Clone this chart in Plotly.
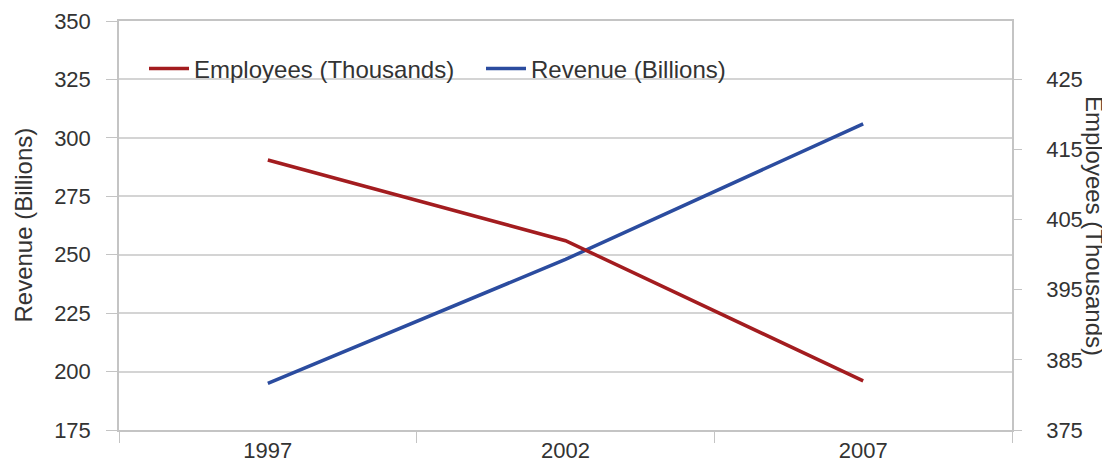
import plotly.graph_objects as go

years = ['1997', '2002', '2007']
revenue = [195, 248, 306]        # billions, left axis
employees = [413.5, 402, 382]    # thousands, right axis

left_ticks = [175, 200, 225, 250, 275, 300, 325, 350]
right_ticks = [375, 385, 395, 405, 415, 425]

red = '#a31c1f'
blue = '#2b4c9f'
grey = '#c4c4c4'
txt = '#333333'
font = 'Liberation Sans, Arial, sans-serif'

# page body adds an 8px offset, so the figure is a bit smaller than the window
W, H = 1102, 457

fig = go.Figure()

fig.add_trace(go.Scatter(x=years, y=employees, name='Employees (Thousands)',
                         mode='lines', line=dict(color=red, width=3.5), yaxis='y2'))
fig.add_trace(go.Scatter(x=years, y=revenue, name='Revenue (Billions)',
                         mode='lines', line=dict(color=blue, width=3.5)))

fig.update_layout(
    width=W, height=H,
    margin=dict(l=111, r=98, t=13, b=35, autoexpand=False),
    plot_bgcolor='white', paper_bgcolor='white',
    font=dict(family=font, size=22, color=txt),
    showlegend=True,
    legend=dict(orientation='h', x=0.028, y=0.883, xanchor='left', yanchor='middle',
                bgcolor='rgba(0,0,0,0)', font=dict(size=24, color=txt),
                itemwidth=40, entrywidth=282, entrywidthmode='pixels'),
    xaxis=dict(type='category', tickson='boundaries', ticks='outside', ticklen=11,
               tickcolor=grey, showline=True, linecolor=grey, linewidth=1.5,
               mirror=True, showgrid=False, range=[-0.5, 2.5], automargin=False,
               tickfont=dict(size=22, color=txt)),
    yaxis=dict(range=[175, 350], tickvals=left_ticks, ticks='outside', ticklen=11,
               tickcolor=grey, showline=True, linecolor=grey, linewidth=1.5,
               showgrid=True, gridcolor='#d4d4d4', gridwidth=1.5, zeroline=False,
               automargin=False, ticklabelstandoff=11, ticklabeloverflow='allow',
               tickfont=dict(size=22, color=txt)),
    yaxis2=dict(range=[375, 375 + 50 * 175 / 150], tickvals=right_ticks, overlaying='y',
                side='right', ticks='outside', ticklen=8, tickcolor=grey,
                showline=True, linecolor=grey, linewidth=1.5, showgrid=False,
                zeroline=False, automargin=False, ticklabelstandoff=20,
                ticklabeloverflow='allow', tickfont=dict(size=22, color=txt)),
)

# white box behind the legend hides the grid there
fig.add_shape(type='rect', xref='paper', yref='paper', x0=0.002, x1=0.718, y0=0.79, y1=0.93,
              fillcolor='white', line=dict(width=0), layer='between')

fig.add_annotation(text='Revenue (Billions)', textangle=-90, xref='paper', yref='paper',
                   x=-0.1075, y=0.5, xanchor='center', yanchor='middle', showarrow=False,
                   font=dict(size=24, color=txt))
fig.add_annotation(text='Employees (Thousands)', textangle=90, xref='paper', yref='paper',
                   x=1.0925, y=0.5, xanchor='center', yanchor='middle', showarrow=False,
                   font=dict(size=24, color=txt))

fig.write_html('out.html')
